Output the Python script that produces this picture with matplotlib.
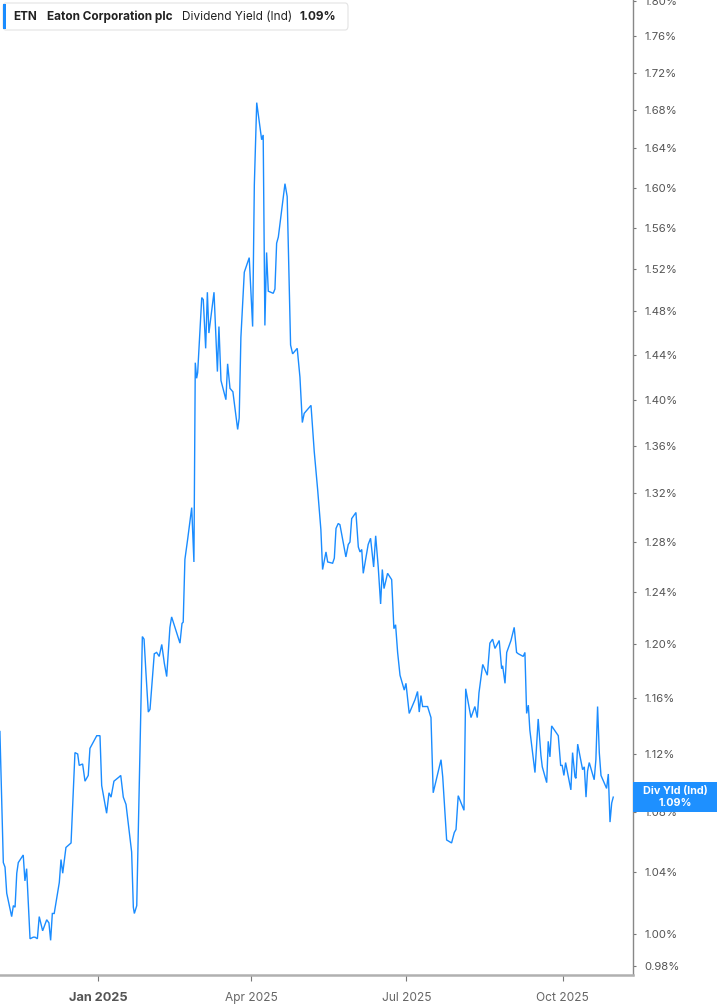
import matplotlib
matplotlib.use("Agg")
import matplotlib.pyplot as plt
import matplotlib.dates as mdates
from matplotlib.ticker import FixedLocator, FuncFormatter, NullLocator
from matplotlib.patches import Rectangle, FancyBboxPatch
import pandas as pd

plt.rcParams['font.family'] = ['Inter', 'DejaVu Sans']

# ---- data ----
base_date = "2025-01-01"
days_from_base = [-57.8, -55.8, -54.8, -53.8, -50.9, -49.9, -48.9, -47.9, -47.0, -44.1,
    -43.1, -42.1, -40.1, -38.2, -37.2, -35.8, -34.7, -32.7, -30.3, -29.0,
    -28.0, -27.0, -25.9, -22.9, -21.9, -20.9, -19.0, -16.0, -13.7, -12.1,
    -11.2, -9.2, -7.8, -5.9, -4.9, -0.9, 1.0, 2.0, 4.9, 6.3,
    7.5, 9.2, 12.3, 13.2, 14.7, 16.3, 19.6, 20.6, 21.2, 22.6,
    25.9, 26.9, 28.0, 29.4, 30.4, 32.9, 34.3, 35.8, 37.3, 38.8,
    40.2, 42.1, 43.1, 48.0, 49.2, 49.9, 50.9, 52.5, 54.9, 56.2,
    57.0, 57.8, 58.4, 60.8, 61.7, 63.1, 64.1, 65.0, 68.0, 70.0,
    70.9, 72.1, 75.0, 76.0, 77.4, 79.1, 81.9, 82.8, 83.8, 85.8,
    88.7, 90.7, 91.7, 93.1, 96.0, 96.9, 97.9, 98.9, 99.9, 102.8,
    103.8, 104.8, 105.8, 109.7, 111.0, 113.0, 114.2, 116.9, 118.5, 119.9,
    121.0, 125.0, 126.9, 128.9, 130.8, 131.8, 133.8, 134.8, 137.7, 138.7,
    139.7, 141.0, 142.0, 144.0, 145.5, 146.9, 147.9, 148.9, 151.4, 152.8,
    153.8, 154.8, 155.7, 158.6, 160.0, 161.8, 163.0, 164.5, 165.9, 166.9,
    167.9, 170.0, 172.4, 173.7, 174.7, 175.9, 177.3, 179.8, 180.8, 182.7,
    186.1, 187.6, 188.6, 189.6, 190.6, 193.5, 195.5, 196.8, 201.4, 202.4,
    204.7, 207.6, 209.2, 210.2, 211.5, 214.9, 215.9, 219.0, 221.3, 222.7,
    223.7, 225.9, 228.6, 230.1, 231.7, 233.1, 235.6, 237.0, 237.6, 239.0,
    240.0, 242.5, 244.4, 245.8, 246.8, 249.7, 250.7, 251.7, 252.7, 253.6,
    256.6, 258.5, 260.1, 260.9, 263.5, 264.4, 265.4, 266.4, 270.3, 271.7,
    272.6, 273.6, 274.6, 277.7, 278.7, 280.1, 280.7, 281.7, 284.6, 285.6,
    286.6, 287.5, 288.5, 291.4, 292.4, 293.4, 294.4, 295.4, 298.7, 299.7,
    300.7, 301.7, 302.6]

div_yield = [1.136, 1.046, 1.043, 1.026, 1.011, 1.018, 1.017, 1.039, 1.046, 1.051,
    1.034, 1.042, 0.997, 0.998, 0.998, 0.997, 1.011, 1.002, 1.009, 1.007,
    0.996, 1.013, 1.013, 1.033, 1.048, 1.039, 1.056, 1.059, 1.121, 1.120,
    1.112, 1.113, 1.101, 1.105, 1.124, 1.133, 1.133, 1.098, 1.079, 1.093,
    1.090, 1.101, 1.104, 1.105, 1.090, 1.085, 1.053, 1.017, 1.013, 1.018,
    1.206, 1.204, 1.179, 1.150, 1.152, 1.193, 1.194, 1.191, 1.200, 1.186,
    1.176, 1.213, 1.221, 1.201, 1.216, 1.217, 1.266, 1.282, 1.308, 1.264,
    1.433, 1.419, 1.424, 1.493, 1.491, 1.446, 1.498, 1.460, 1.498, 1.425,
    1.466, 1.417, 1.400, 1.432, 1.410, 1.407, 1.374, 1.384, 1.456, 1.517,
    1.531, 1.466, 1.603, 1.688, 1.649, 1.654, 1.467, 1.536, 1.499, 1.497,
    1.501, 1.545, 1.551, 1.604, 1.591, 1.449, 1.441, 1.446, 1.420, 1.380,
    1.388, 1.395, 1.355, 1.323, 1.290, 1.258, 1.272, 1.264, 1.263, 1.267,
    1.291, 1.295, 1.294, 1.279, 1.268, 1.278, 1.280, 1.299, 1.304, 1.276,
    1.272, 1.274, 1.255, 1.278, 1.283, 1.260, 1.285, 1.260, 1.231, 1.258,
    1.243, 1.255, 1.250, 1.212, 1.215, 1.194, 1.177, 1.166, 1.171, 1.149,
    1.159, 1.165, 1.150, 1.162, 1.154, 1.154, 1.146, 1.093, 1.116, 1.104,
    1.061, 1.059, 1.066, 1.068, 1.091, 1.081, 1.167, 1.146, 1.154, 1.146,
    1.164, 1.185, 1.177, 1.201, 1.204, 1.197, 1.203, 1.182, 1.184, 1.171,
    1.194, 1.203, 1.213, 1.194, 1.193, 1.191, 1.194, 1.149, 1.155, 1.137,
    1.107, 1.145, 1.119, 1.111, 1.100, 1.129, 1.118, 1.140, 1.133, 1.112,
    1.112, 1.105, 1.114, 1.095, 1.121, 1.104, 1.103, 1.127, 1.109, 1.111,
    1.090, 1.108, 1.114, 1.102, 1.116, 1.154, 1.121, 1.105, 1.096, 1.106,
    1.073, 1.086, 1.090]

ytick_values = [0.98, 1.00, 1.04, 1.08, 1.12, 1.16, 1.20, 1.24, 1.28, 1.32, 1.36,
                1.40, 1.44, 1.48, 1.52, 1.56, 1.60, 1.64, 1.68, 1.72, 1.76, 1.80]
xtick_dates = ["2025-01-01", "2025-04-01", "2025-07-01", "2025-10-01"]
xtick_labels = ["Jan 2025", "Apr 2025", "Jul 2025", "Oct 2025"]
ticker = "ETN"
company = "Eaton Corporation plc"
metric = "Dividend Yield (Ind)"
short_metric = "Div Yld (Ind)"
last_value = "1.09%"

dates = pd.Timestamp(base_date) + pd.to_timedelta(days_from_base, unit="D")

# ---- figure ----
W, H = 717, 1005
fig = plt.figure(figsize=(W / 100, H / 100), dpi=100)
ax = fig.add_axes([0, 1 - 975 / H, 633 / W, 975 / H])

line_color = "#1a8cff"
ax.plot(dates, div_yield, color=line_color, lw=1.0, solid_joinstyle="miter")

ax.set_yscale("log")
ax.set_ylim(0.9745, 1.8007)
ax.set_xlim(pd.Timestamp("2024-11-04 06:00"), pd.Timestamp("2025-11-11 05:00"))

ax.yaxis.set_major_locator(FixedLocator(ytick_values))
ax.yaxis.set_minor_locator(NullLocator())
ax.yaxis.set_major_formatter(FuncFormatter(lambda v, p: f"{v:.2f}%"))
ax.yaxis.tick_right()
ax.tick_params(axis="y", which="major", length=2.5, width=0.8, color="#777777",
               labelsize=8.2, labelcolor="#555555", pad=6, direction="out")

ax.set_xticks(pd.to_datetime(xtick_dates))
ax.set_xticklabels(xtick_labels)
ax.tick_params(axis="x", length=4, width=0.8, color="#777777", labelsize=8.6,
               labelcolor="#666666", pad=8)
for lbl in ax.get_xticklabels():
    if lbl.get_text().startswith("Jan"):
        lbl.set_fontweight("bold")
        lbl.set_color("#555555")
        lbl.set_fontsize(9.2)

for s in ["left", "top"]:
    ax.spines[s].set_visible(False)
ax.spines["right"].set_color("#888888")
ax.spines["right"].set_linewidth(1.0)
ax.spines["bottom"].set_color("#b0b0b0")
ax.spines["bottom"].set_linewidth(1.8)
ax.set_facecolor("white")


def fx(px):
    return px / W


def fy(py):
    return 1 - py / H


# Legend box top-left
box = FancyBboxPatch((fx(3), fy(30)), fx(348) - fx(3), fy(3) - fy(30),
                     boxstyle="round,pad=0,rounding_size=0.004",
                     transform=fig.transFigure, facecolor="white",
                     edgecolor="#e3e3e3", lw=0.8, zorder=5)
fig.patches.append(box)
bar = Rectangle((fx(3), fy(29)), fx(6) - fx(3), fy(4) - fy(29),
                transform=fig.transFigure, facecolor=line_color,
                edgecolor="none", zorder=6)
fig.patches.append(bar)
ty = fy(16.5)
lfs = 8.5
fig.text(fx(13), ty, ticker, fontsize=lfs, fontweight="bold", color="#222222",
         va="center", ha="left", zorder=7)
fig.text(fx(47), ty, company, fontsize=lfs, fontweight="bold", color="#222222",
         va="center", ha="left", zorder=7)
fig.text(fx(182), ty, metric, fontsize=lfs, color="#222222",
         va="center", ha="left", zorder=7)
fig.text(fx(300), ty, last_value, fontsize=lfs, fontweight="bold", color="#222222",
         va="center", ha="left", zorder=7)

# Right value label
rbox = Rectangle((fx(633), fy(812)), fx(717) - fx(633), fy(782) - fy(812),
                 transform=fig.transFigure, facecolor="#1e90ff",
                 edgecolor="none", zorder=8)
fig.patches.append(rbox)
fig.text(fx(675), fy(791), short_metric, fontsize=7.8, fontweight="bold",
         color="white", ha="center", va="center", zorder=9)
fig.text(fx(675), fy(802.5), last_value, fontsize=7.8, fontweight="bold",
         color="white", ha="center", va="center", zorder=9)

fig.savefig("out.png", dpi=100, facecolor="white")
